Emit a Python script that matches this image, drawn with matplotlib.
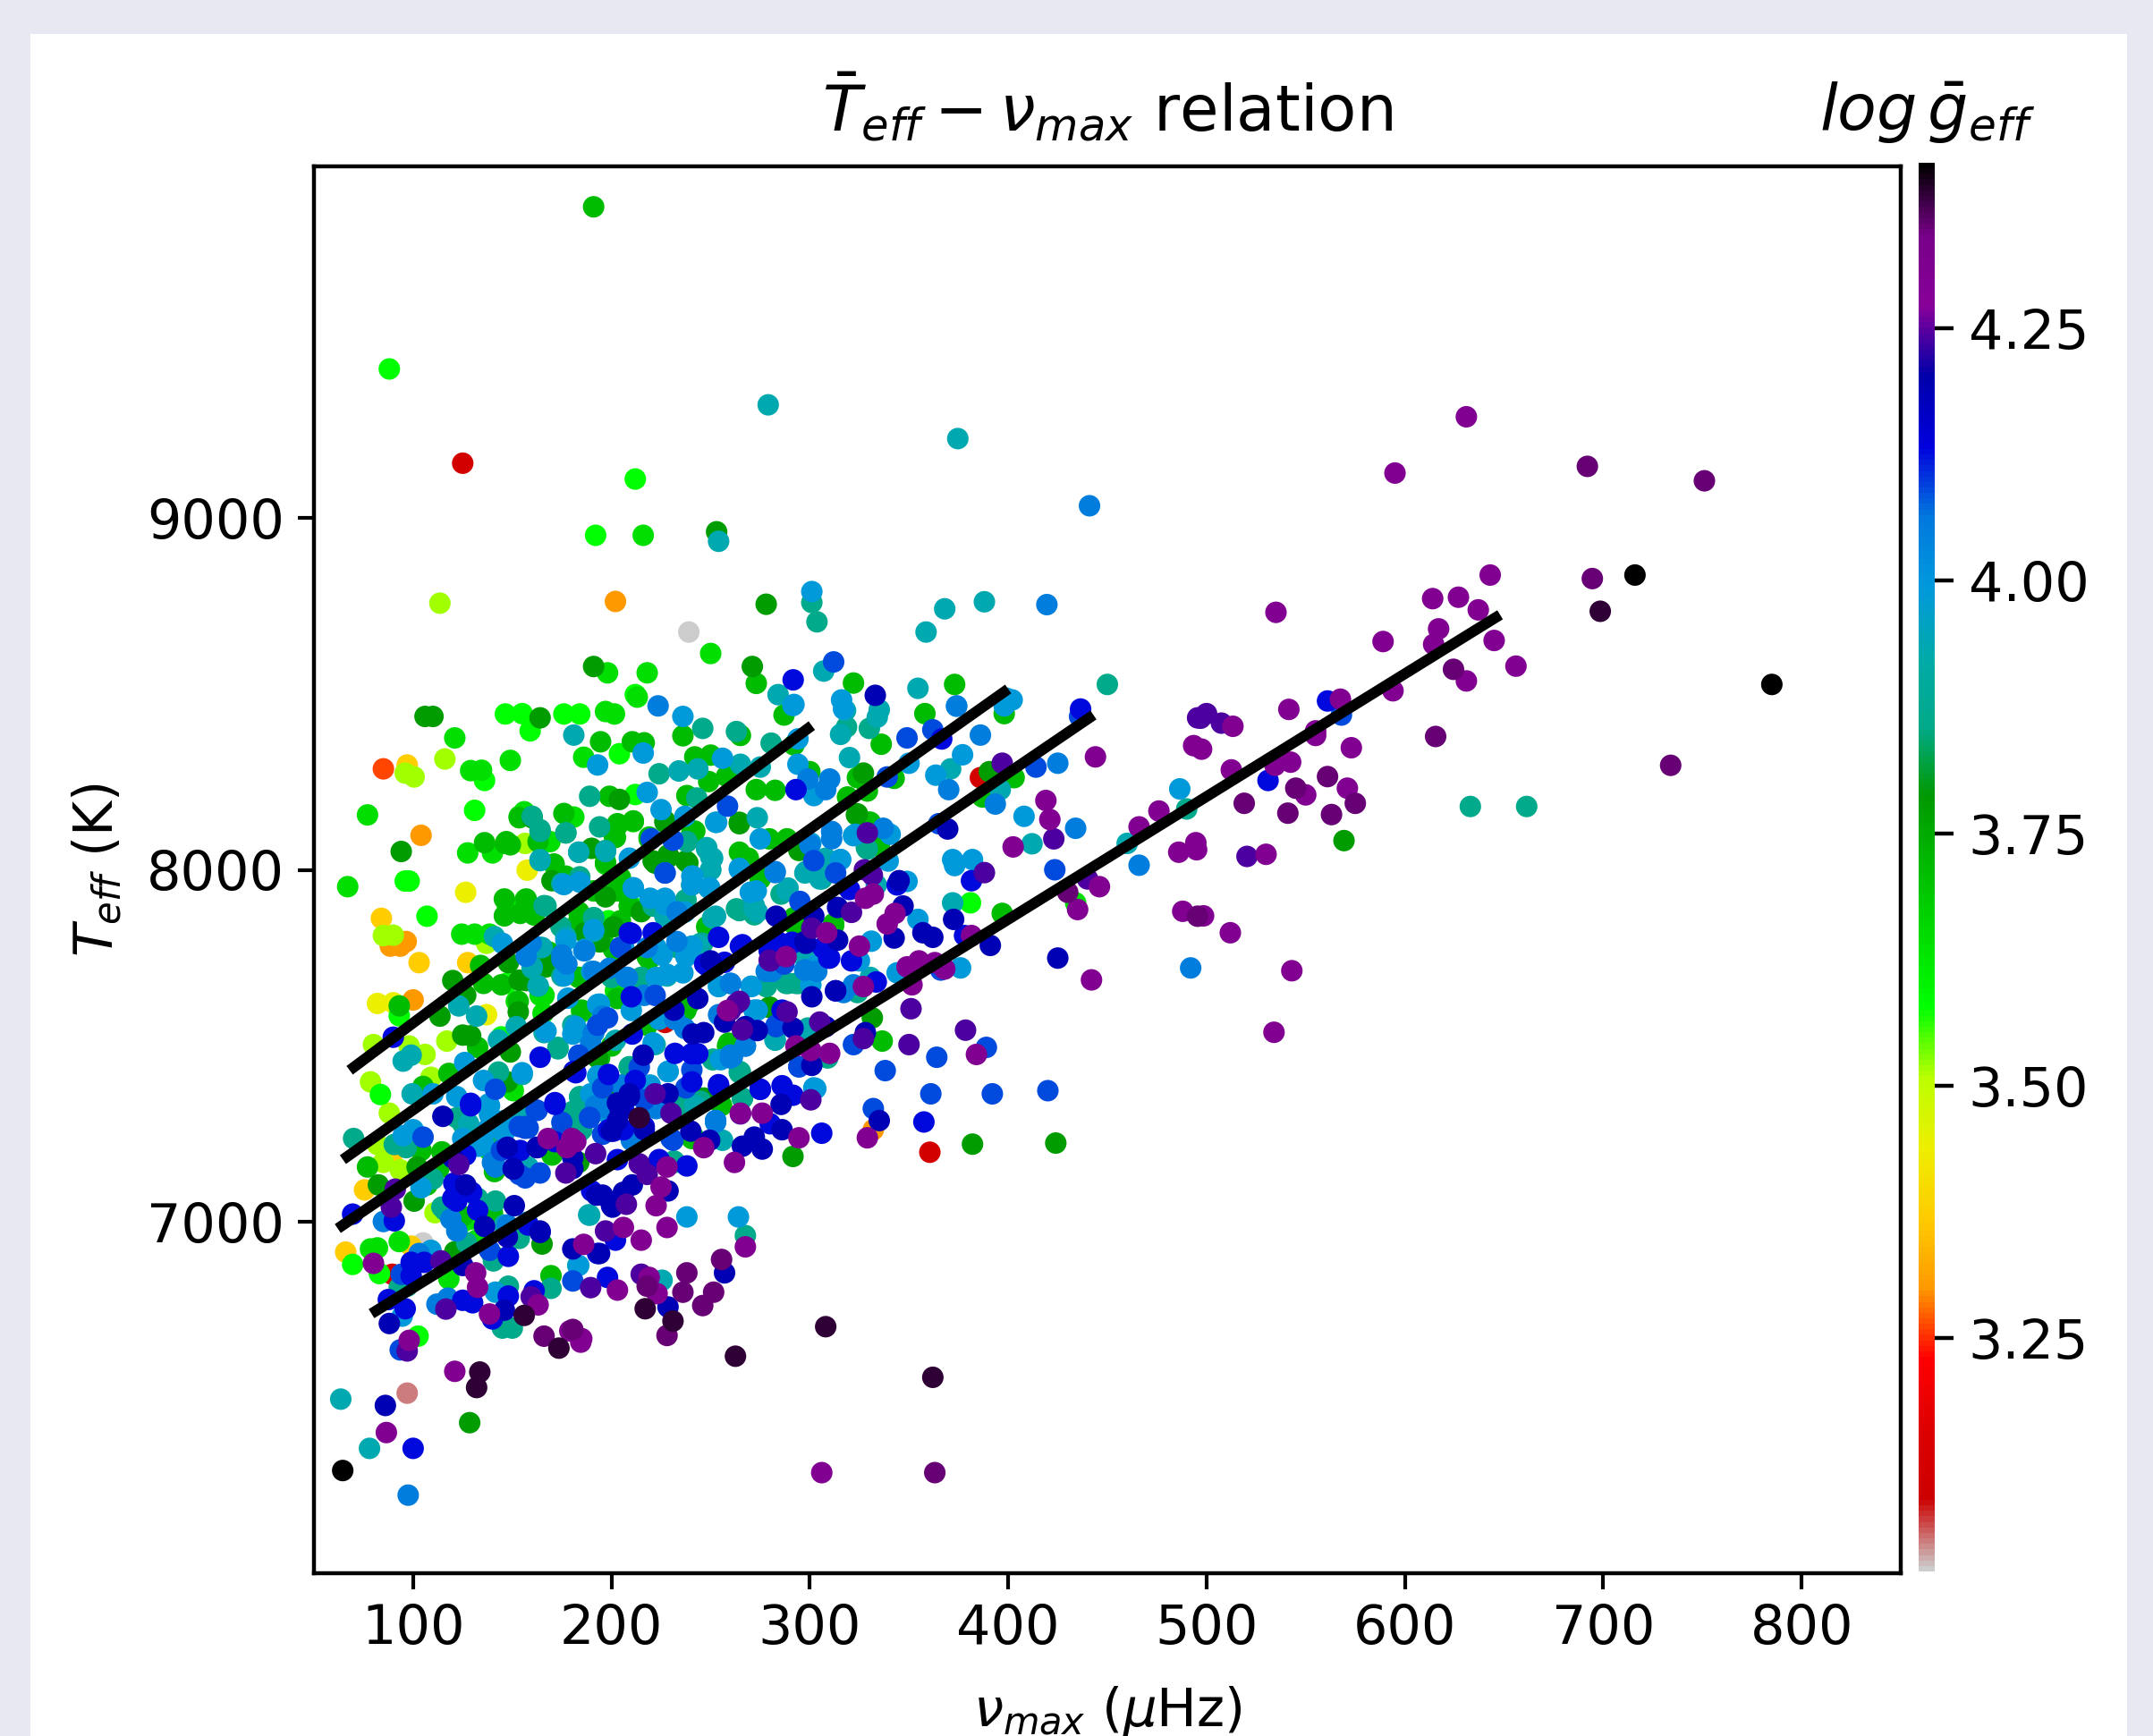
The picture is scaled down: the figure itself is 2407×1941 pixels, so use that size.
# %%
import matplotlib
matplotlib.use('Agg')
import matplotlib.pyplot as plt
import numpy as np
from matplotlib.patches import Rectangle

# %%
# (nu_max, Teff), one list per colour level of log g
grey = [(239,8676),(105,6939)]
salmon = [(97,6512)]
dark_red = [(125,9156),(360.5,7197),(386,8262),(227,7566),(89.5,6850)]
orange_red = [(85,8287)]
orange = [(202,8763),(104,8098),(100,7630),(96.5,7796),(93.5,7783),(88.5,7783),(332,7261)]
gold = [(97,8298),(84,7862),(103,7736),(127.5,7736),(66,6913),(75.5,7090),(89,7180),(99,6930)]
yellow = [(157.5,7999),(126.5,7936),(82,7620),(90,7622),(137,7588)]
yellow_green = [(113.5,8758),(116,8315),(96,8275),(100.5,8264),(156.5,8075),(90,7814),(85,7813),(137,7791),
    (117,7513),(80,7503),(98,7499),(106,7475),(78.5,7397),(88,7308),(109,7410),(82,7219),(85,7168),(93.5,7147),(111,7025),
    (132.5,6939)]
lime = [(88,9424),(212,9111),(192,8951),(212,8498),(136,8254),(131,8169),(146.5,8443),(155,8444),(159,8395),
    (176,8443),(184,8443),(204,8330),(212,8214),(98,7968),(96,7968),(107,7868),(93,7585),(83.5,7361),(213.5,7889),
    (381,7906),(102.5,6674),(83,6852),(69.5,6878),(125,6998),(147.5,7898),(147,7677),(144.5,7525),(198.5,7855)]
bright_green = [(216,8951),(250,8615),(198,8560),(218,8560),(197,8450),(201.5,8443),(213,8491),(121,8375),(129,8282),
    (134.5,8283),(149,8311),(186,8320),(77,8156),(127.5,8048),(140,8048),(156,8165),(169,8080),(181,8150),(211,8137),
    (197,8016),(67,7952),(124.5,7817),(131,7817),(138.5,7817),(166,7643),(185,7596),(118,6837),(78.5,6922),(82,6925),
    (93,6943),(129,7007),(132,6947),(170,7189),(241,7244),(183.5,7694),(434,7906),(153.5,8152),(156.5,7915),(164,7643),
    (152,7626),(165.5,7592),(202,7656),(150.5,7372),(138.5,7202)]
green = [(191,9885),(273,8530),(194.5,8364),(210.5,8364),(216.5,8361),(236,8381),(265,8382),(249,8251),(250,8326),
    (242,8321),(258,8266),(199,8209),(238,8211),(240.5,8105),(136,8077),(146.5,8075),(149,8071),(153.5,8148),(163,8080),
    (176,8160),(203,8126),(202,8092),(219,8088),(264.5,8050),(171,8016),(177,7982),(146,7917),(157,7917),(146,7869),
    (154,7876),(161,7872),(93,7613),(134,7728),(135.5,7677),(144.5,7673),(168.5,7766),(153,7626),(183.5,7880),(195.5,7940),
    (203,7940),(209,7897),(219,7745),(132.5,7495),(118,7421),(105,7384),(77,7155),(104,7202),(107,7104),(141,7142),
    (169.5,6846),(201,7774),(218,7753),(203,7634),(237.5,7600),(218,7558),(259,7507),(199,7354),(287,8440),(292,8355),
    (282.5,8226),(273,8228),(300,8279),(322,8531),(373,8527),(358,8444),(398,8444),(336,8357),(324,8262),(319,8207),
    (329,8224),(342.5,8260),(403,8262),(387,8207),(330,8135),(335,8067),(275,7974),(292,7846),(312,7842),(397,7876),(336.5,7513),
    (147,8080),(203,8131),(211,8139),(201.5,8093),(197,8021),(171,8016),(204.5,7978),(191,7940),(201.5,7940),(209,7898),
    (204.5,7855),(183.5,7855),(195.5,7813),(161,7872),(183.5,7694),(185,7601),(219.5,7754),(194,7465),(200,7499),(258.5,7499),
    (239,7618),(248,7838),(269,8033),(275,7978),(288.5,8088),(279.5,8088),(330.5,8135),(219,8093),(242,8110),(292,7864),
    (312,7847),(240.5,7236),(170,7190),(255.5,7330),(114.5,7198),(113,7151),(125,7015),(140,7024)]
dark_green = [(253,8961),(278,8755),(191,8578),(271,8578),(110,8436),(106,8436),(164,8432),(204,8200),(264.5,8131),
    (227,8139),(94,8052),(160,8148),(190,8061),(229,8037),(222,8019),(238.5,8020),(170,7969),(148,7736),(120,7685),
    (126.5,7643),(113.5,7584),(167,7724),(157,7685),(153,7596),(194,7795),(201,7838),(125,7530),(129,7528),(102,7155),
    (82.5,7104),(100.5,7058),(121,6914),(165,6936),(183.5,7168),(128.5,6428),(382,7220),(291.5,7185),(424,7223),
    (569.3,8083),(390.5,8279),(327,8275),(324,8159),(331.5,7579),(280,7609),(193,7465),(197,7923),(215,7881),(186.5,7821),
    (167,7745),(153.5,7686),(149,7482),(147.5,7397),(228.5,8042),(221,8025),(237.5,8025),(240.5,7957),(264.5,8135),
    (294.5,8055),(323.5,8156),(227,8135),(279.5,7609),(246.5,7351),(140,6905)]
teal_green = [(301,8760),(303.6,8705),(246,8402),(263,8393),(189,8209),(224,8273),(243,8204),(164,8109),(177,8105),
    (194,8122),(238,8080),(184,7980),(167,7897),(222,7897),(227,7868),(237.5,7914),(263,7889),(233,7779),(246,7791),
    (214,7690),(175,7698),(251.5,7461),(264.5,7423),(173,7495),(143,7425),(70,7236),(184,7355),(125,7278),(96.5,7210),
    (90.5,7219),(110,7121),(132.5,7066),(114.5,7041),(142,7257),(182,7316),(185,7261),(232,7168),(145,6697),(150,6697),
    (148,6816),(127,6939),(140.5,6888),(97,6816),(93,6812),(169.5,6810),(267.5,6960),(231.5,7172),(266,7350),(265,7425),
    (251,7460),(239,7337),(245,7342),(183.5,7278),(200,7694),(278,7668),(288,7677),(293,7677),(184,7354),(209,7439),
    (191,7863),(221,7897),(245,7791),(233,7783),(264.5,7884),(180.5,7558),(633,8180),(661.4,8180),(490,8173),(309,7465),
    (324,7651),(328.5,8063),(330,8402),(318.5,8406),(280.5,8360),(306,7974),(285.5,7931),(450,8527),(160,8152),(177,8105),
    (164,8114),(197,8055),(238,8080),(248,8059),(250,8000),(166,7898),(191,7864),(174.5,7838),(222,7898),(237.5,7915),
    (264.5,7885),(272,7872),(329,8059),(160,7720),(163,7669),(234,7783),(215,7694),(173,7491),(180.5,7313),(209,7440),
    (278,7669),(289,7677),(294.5,7677),(251,7461),(264.5,7427),(266,7351),(299,7550),(183.5,7253),(122,7295),(234.5,7329),
    (116,7032),(141.5,7058),(153.5,6952)]
cyan = [(279,9322),(254,8934),(307,8565),(284,8498),(374.6,9226),(388,8762),(368,8742),(358.6,8676),(354.5,8516),(334,8434),
    (181,8383),(234,8281),(243.5,8287),(265,8300),(183.5,8050),(197,8052),(164,8026),(248,8063),(250,8037),(250,8000),
    (141,7810),(165,7779),(160,7724),(163,7670),(123,7613),(132,7584),(191,7825),(143,7516),(152,7554),(155,7418),(95,7456),
    (99,7473),(99.5,7363),(146,6990),(183,6875),(189,7018),(225.5,6833),(63.5,6495),(78,6355),(188.5,7019),(256,7231),
    (282.5,7516),(222,7503),(202,7515),(251,7863),(272,7889),(228,7698),(298,7995),(289,7948),(297,7753),(333.5,7957),
    (330.5,7694),(299,7545),(273.5,7880),(315.5,8385),(318,8453),(335,8455),(320,8319),(275,8292),(396,8228),(371,8287),
    (372,7906),(412,8074),(460,8075),(155,7304),(183.5,8050),(164,8029),(251,8033),(227,7868),(252.5,7868),(272,7898),
    (288.5,7940),(297.5,7991),(305,7974),(308,8033),(164,7779),(244,7787),(181,7554),(166,7537),(282.5,7516),(242,7330),
    (252.5,8135),(273.5,8148),(175,7961),(177,7809),(174.5,7253),(128,7278),(158,7155)]
sky = [(301,8791),(292,8470),(236,8436),(225,8171),(237,8152),(253,8135),(256,8317),(218,8220),(193,8298),(216,8332),
    (209,8033),(241,7982),(264.5,8001),(176,7958),(184,7965),(211,7948),(219.5,7919),(227,7919),(240.5,7957),(249,7948),
    (222.5,7779),(239,7770),(177,7800),(145,7791),(178,7635),(236,7707),(193,7617),(182,7554),(135.5,7401),(126,7452),
    (138,7334),(110,7363),(122,7355),(195.5,7397),(193,7414),(100,7261),(95,7244),(138.5,7329),(125,7236),(133,7214),
    (104,7096),(146,7253),(138,7265),(94.5,6731),(141.5,6799),(109,6918),(238,7013),(264,7013),(183.5,6875),(186.5,7774),
    (206,7783),(225.5,7757),(240.5,7783),(237,7880),(227,7901),(210,7600),(224,7575),(272,7600),(255,7460),(228.5,7426),
    (219.5,7388),(197,7312),(270.5,7668),(254,7668),(291.5,8467),(316,8483),(294,8372),(294,8300),(302,8211),(350,8303),
    (363.5,8269),(377,8327),(374,8465),(398,8466),(402,8483),(315.5,8029),(340.5,8101),(322,8097),(339.5,8025),(349,7967),
    (354.5,7859),(372,8029),(373,8012),(382,8029),(408,8152),(325,7741),(331,7797),(344,7707),(376,7721),(303,7728),
    (300.5,7673),(273.5,7601),(303,7378),(273,7940),(486.5,8230),(317,8457),(399,8488),(191,7710),(275,8088),(264.5,8004),
    (240.5,7982),(211,7949),(226,7915),(233,7881),(249.5,7949),(270,7936),(300.5,8076),(315.5,8029),(323,8101),(186,7770),
    (191,7830),(176,7698),(190,7711),(228,7703),(222.5,7694),(237.5,7753),(270.5,7669),(254,7669),(272,7601),(194,7618),
    (180.5,7533),(167,7541),(194,7414),(155,7423),(228.5,7427),(221,7508),(189.5,7363),(210.5,7236),(302,7380),
    (138.5,7304),(146,7287),(129.5,7223),(135.5,7219)]
azure = [(223.5,8466),(419.5,8754),(441,9035),(97.5,6222),(159.5,7791),(175,7758),(177.5,7732),(186.5,7770),(233,7796),
    (233,7880),(208,7694),(191,7711),(191,7537),(261,7469),(252.5,7287),(85,7000),(119,7007),(141.5,7155),(157.5,6998),
    (210,7236),(103,6909),(112,6765),(117.5,6782),(216.5,7643),(232,7575),(237,7549),(254,7588),(267.5,7499),(260,7473),
    (189.5,7507),(260,7677),(205,7388),(192,7329),(252.5,7282),(210,7231),(386,8383),(374,8466),(299,8258),(310,8258),
    (308,8228),(370,8228),(425,8303),(393.5,8187),(434,8118),(311,8109),(300,8071),(337,8118),(282.5,7992),(317,7651),
    (322,7673),(297.5,7715),(278,7711),(466,8013),(492,7721),(311,8088),(282.5,7995),(227,7991),(207.5,7694),(157,7754),
    (199,7720),(260,7465),(267.5,7499),(297.5,7715),(303.5,7711),(281,7711),(195.5,7584),(191,7537),(218,7779),(204.5,7779),
    (175,7745),(260,7677),(198,7321),(222.5,7321),(252.5,7287),(140,7168),(147.5,6990),(122,6973)]
royal = [(312,8591),(258.5,8181),(220,8088),(231,8084),(227,7991),(204.5,7779),(222,7643),(240.5,7431),(141.5,7376),
    (162.5,7316),(156.5,7270),(189,7295),(105,7240),(156.5,7265),(175,7282),(195.5,7248),(164,7138),(156.5,7124),(138.5,6918),
    (94,6850),(93.5,6635),(180.5,6831),(231,7231),(332,7321),(361,7363),(392,7363),(420,7372),(349,8375),(362,8398),(414,8292),
    (436,8436),(339,8264),(365,8131),(302,8026),(313,7991),(295,7910),(287,7732),(283,7558),(294.5,7440),(364,7467),(338,7429),
    (389,7495),(423.5,8000),(322,7503),(198,7579),(193,7558),(216.5,7346),(214,7439),(195.5,7380),(183.5,7473),(283,7554),
    (568,8440),(366,7715),(294.5,7440),(237.5,7380),(189,7296),(158,7266),(162,7317),(153.5,7270),(144.5,7202),(230,7236),
    (153.5,7134)]
blue = [(291.6,8540),(436.5,8457),(366.5,8372),(293,8228),(210,7819),(221,7821),(265,7783),(254,7808),(210,7639),(210.5,7533),
    (232,7478),(242,7478),(240.5,7397),(254,7384),(164,7467),(129,7336),(171.5,7333),(198.5,7418),(181,7427),(201,7257),(129,7329),
    (90,7524),(99,6884),(99,6846),(105.5,6884),(125,6776),(130,6769),(148,6788),(161,6803),(148,6901),(202,6947),(126.5,7189),
    (148,7208),(154,7202),(171.5,7227),(120.5,7109),(120,7066),(132.5,7032),(90.5,7002),(69.5,7021),(100,6355),(87.5,6778),
    (96,6752),(140,6723),(198.5,7261),(206,7261),(238,7158),(224,7176),(203,7176),(190,7087),(193,6909),(198,6841),(240.5,7477),
    (243.5,7477),(212,7401),(216.5,7270),(247,7732),(252.5,7727),(266,7787),(284,7795),(291,7791),(307,7778),(310,7749),(344,7957),
    (381.5,7969),(378,7813),(321,7741),(306.5,7779),(291,7794),(279.5,7770),(333.5,7681),(275,7376),(286,7386),(291.5,7359),
    (280,7278),(306,7251),(357.5,7283),(320,7944),(561,8480),(531,8254),(209,7821),(254,7389),(275,7376),(286,7601),(257,7737),
    (248,7728),(182,7423),(171.5,7338),(313,7656),(309.5,7749),(206,7321),(122,7058),(129.5,7083),(158,6990)]
navy = [(333,8496),(369.5,8116),(86,6477),(88,6710),(115,7299),(126.5,7104),(146,6748),(125,6875),(147.5,6956),(136,6986),
    (164,6969),(150.5,7149),(162.5,7210),(180.5,7151),(180.5,7181),(210.5,7104),(206,7083),(228.5,7087),(200.5,7041),(228.5,6757),
    (257,6854),(180.5,6922),(194,6909),(209,7363),(203,7337),(200,7257),(203,7287),(228.5,7363),(195.5,7075),(216.5,7261),
    (243.5,7634),(231.5,7601),(250,7741),(267.5,7554),(257,7567),(241,7533),(246.5,7537),(216,7473),(240,7257),(249.5,7231),
    (266,7214),(272,7240),(276,7206),(314,7893),(347,7897),(345,7969),(357,7821),(362,7808),(372.5,7859),(391,7785),(302,7868),
    (283,7868),(297.5,7796),(314,7800),(301,7639),(313,7656),(291.5,7550),(273.5,7543),(308,7554),(328,7537),(301,7444),
    (285.5,7333),(286,7261),(335,7287),(342.5,7806),(298,7791),(268,7552),(425,7749),(209,7355),(204.5,7313),(147.5,7211),
    (162.5,7211),(150.5,7151),(192.5,7075),(151,7045),(164,6973),(200,7045),(120,7181)]
violet = [(397,8303),(329,8105),(327.5,8000),(331.5,7985),(321,7879),(301,7834),(280,7741),(288.5,7596),(305,7567),(378.5,7544),
    (350,7503),(351,7605),(327,7520),(300.5,7346),(440,7974),(423,8088),(388,7992),(495.5,8432),(500,8444),(497,8431),(507.5,8417),
    (520.4,8038),(123,7162),(91,7092),(89,7041),(114,6888),(97,6632),(116.5,6751),(159.5,6786),(189.5,6812),(197,6973),(215,6850),
    (177,7138),(192,7193),(214,7164),(218,7134),(207.5,7049),(222,7363),(230,7308),(265,7306),(259,7599),(263,7619),(266,7545),
    (279.5,7743),(260,7600),(264.5,7626)]
purple = [(631,9288),(595,9128),(643,8838),(614,8771),(627,8775),(637,8739),(535,8732),(589,8649),(617,8685),(614.5,8641),
    (645,8652),(656,8579),(631,8537),(594,8509),(567.5,8485),(541.5,8456),(513.3,8408),(493.5,8353),(497.5,8343),(555,8395),
    (555,8382),(573,8347),(512.5,8284),(534.5,8297),(542.4,8306),(550,8213),(571,8232),(494.6,8077),(495,8057),(530,8044),
    (488,7882),(498.5,7869),(512,7821),(543,7713),(534,7538),(444,8321),(419,8197),(421,8143),(402.5,8065),(446,7952),(435,7887),
    (476,8167),(466,8122),(486,8050),(442,7687),(343,7876),(339,7846),(384,7475),(332,7931),(328,7919),(327,7668),(325,7783),
    (310,7478),(293,7499),(300.5,7486),(276,7308),(294.5,7238),(329,7238),(368,7718),(363,7736),(355,7741),(349,7724),(351.5,7673),
    (381.5,7813),(308.5,7821),(288,7753),(262,7168),(246.5,7210),(225,7098),(222.5,7045),(228,6983),(206,6983),(215,6947),
    (267.5,6928),(186,6935),(203,6805),(219,6841),(223,6795),(185,6667),(179,6689),(184.5,6657),(138.5,6737),(163,6763),
    (132.5,6813),(131.5,6854),(98,6662),(80,6881),(121,6574),(86.5,6400),(306,6286),(168,7236),(177.5,7210),(180,7236),
    (182,7227),(265,7308),(228,7155),(258.5,7600)]
plum = [(694.5,8828),(751,9106),(692,9147),(624.5,8570),(615.5,8379),(734,8297),(561,8265),(545,8232),(575,8189),(519,8189),
    (541,8161),(563,8157),(430,7936),(495.5,7868),(166,6674),(228,6676),(238,6854),(236,6799),(251.5,6799),(246,6761),(255.5,6892),
    (218,6816),(180.5,6693),(363,6286)]
dark_plum = [(698.5,8735),(214,7295),(156,6733),(133.6,6572),(132,6528),(173.5,6640),(217,6752),(231,6717),(262.5,6617),(308,6701),(362,6557)]
black = [(716,8838),(785,8527),(64.5,6292)]

# log g of each list, same order, low values are drawn first
logg_levels = [3.02,3.05,3.12,3.26,3.30,3.37,3.44,3.52,3.575,3.645,3.715,3.78,3.86,3.93,3.99,4.05,4.09,4.13,4.19,4.24,4.30,4.35,4.385,4.41]
groups = [grey,salmon,dark_red,orange_red,orange,gold,yellow,yellow_green,lime,bright_green,green,dark_green,teal_green,
    cyan,sky,azure,royal,blue,navy,violet,purple,plum,dark_plum,black]

# the four black relations: nu_max ends and Teff ends
line_nu = [[68,301],[64.6,400],[62,443],[79,648]]
line_teff = [[7430,8410],[7176,8514],[6980,8440],[6738,8725]]

x_ticks = [100,200,300,400,500,600,700,800]
y_ticks = [7000,8000,9000]
cbar_ticks = [3.25,3.50,3.75,4.00,4.25]

# %%
W, H = 2407, 1941
fig = plt.figure(figsize=(W/100, H/100), dpi=100, facecolor='#e8e8f2')
fig.patches.append(Rectangle((34/W, 0), (2378-34)/W, (H-38)/H, transform=fig.transFigure, facecolor='white', edgecolor='none', zorder=-5))

ax = fig.add_axes([351/W, (H-1759)/H, (2125-351)/W, (1759-186)/H])

nu = np.concatenate([[p[0] for p in g] for g in groups])
teff = np.concatenate([[p[1] for p in g] for g in groups])
logg = np.concatenate([[lv]*len(g) for lv, g in zip(logg_levels, groups)])

sc = ax.scatter(nu, teff, c=logg, cmap='nipy_spectral_r', vmin=3.019, vmax=4.414, s=300, linewidths=0)

for xs, ys in zip(line_nu, line_teff):
    ax.plot(xs, ys, color='black', lw=8.6, solid_capstyle='butt')

ax.set_xlim(50, 850)
ax.set_ylim(6000, 10000)
ax.set_xticks(x_ticks)
ax.set_yticks(y_ticks)
ax.tick_params(length=13, width=3, labelsize=43.5, pad=11)
for s in ax.spines.values():
    s.set_linewidth(3.2)

ax.set_title(r'$\bar{T}_{eff} - \nu_{max}$ relation', fontsize=51, pad=28)
ax.set_xlabel(r'$\nu_{max}$ ($\mu$Hz)', fontsize=42.7)
ax.xaxis.set_label_coords(0.5, -0.079)
ax.set_ylabel(r'$T_{eff}$ (K)', fontsize=43)
ax.yaxis.set_label_coords(-0.119, 0.5)

cax = fig.add_axes([2145/W, (H-1757)/H, 18/W, (1757-182)/H])
cbar = fig.colorbar(sc, cax=cax)
cbar.outline.set_visible(False)
cbar.set_ticks(cbar_ticks)
cbar.set_ticklabels(['3.25', '3.50', '3.75', '4.00', '4.25'])
cax.tick_params(length=15, width=3.2, labelsize=43.5, pad=12)
fig.text(2155/W, (H-146)/H, r'$log\,\bar{g}_{eff}$', fontsize=51.5, ha='center', va='baseline')

plt.savefig('out.png', dpi=100, facecolor=fig.get_facecolor())
plt.close()
